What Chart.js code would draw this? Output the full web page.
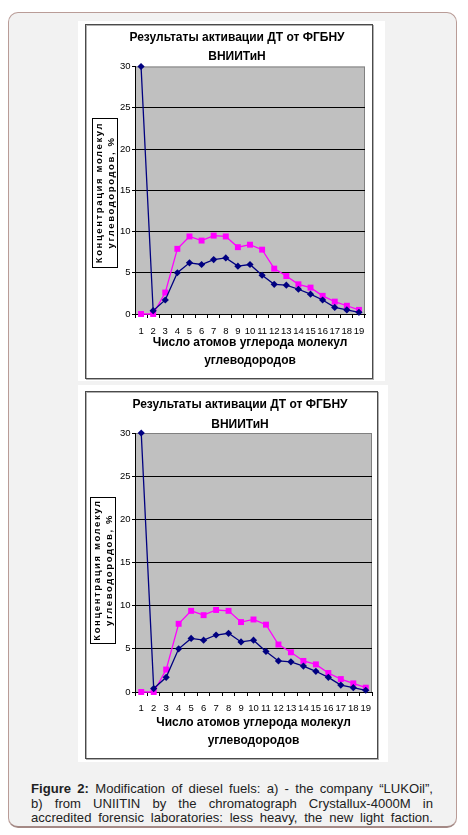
<!DOCTYPE html>
<html>
<head>
<meta charset="utf-8">
<script src="https://cdn.jsdelivr.net/npm/chart.js@4.4.1/dist/chart.umd.min.js"></script>
<style>
    body { margin: 0; width: 468px; height: 835px; position: relative; background: #fff; font-family: 'Liberation Sans', Arial, sans-serif; }
    .panel { position: absolute; left: 8px; top: 12px; width: 449px; height: 816px; box-sizing: border-box; border: 1px solid #b99c97; border-bottom: 2px solid #a48985; border-radius: 10px; background: #f2f2f2; }
    .pic { position: absolute; background: #fff; }
    #pic1 { left: 78px; top: 21px; width: 307px; height: 360px; }
    #pic2 { left: 78px; top: 385px; width: 310px; height: 377px; }
    canvas { display: block; }
    .caption { position: absolute; left: 31px; top: 782px; width: 402px; font-size: 13.1px; line-height: 14.5px; color: #222; text-align: justify; text-align-last: justify; white-space: nowrap; }
</style>
</head>
<body>
<div class="panel"></div>
<div class="pic" id="pic1"><canvas id="chartA" width="307" height="360"></canvas></div>
<div class="pic" id="pic2"><canvas id="chartB" width="310" height="377"></canvas></div>
<div class="caption"><b>Figure 2:</b> Modification of diesel fuels: a) - the company “LUKOil”,<br>b) from UNIITIN by the chromatograph Crystallux-4000M in<br>accredited forensic laboratories: less heavy, the new light faction.</div>

<script>
// число атомов углерода (категории по оси X)
const carbonAtoms = ['1', '2', '3', '4', '5', '6', '7', '8', '9', '10', '11', '12', '13', '14', '15', '16', '17', '18', '19'];
// тёмно-синяя линия (ромбы)
const seriesNavy = [30, 0.4, 1.7, 5.0, 6.2, 6.0, 6.6, 6.8, 5.8, 6.0, 4.7, 3.6, 3.5, 3.0, 2.4, 1.7, 0.8, 0.5, 0.2];
// розовая линия (квадраты)
const seriesPink = [0, 0, 2.6, 7.9, 9.4, 8.9, 9.5, 9.4, 8.1, 8.4, 7.8, 5.5, 4.6, 3.6, 3.2, 2.2, 1.5, 1.0, 0.5];
const yTickValues = [0, 5, 10, 15, 20, 25, 30];

const chartTitle = ['Результаты активации ДТ от ФГБНУ', 'ВНИИТиН'];
const xTitle = ['Число атомов углерода молекул', 'углеводородов'];
const yTitle = ['Концентрация молекул', 'углеводородов, %'];

const family = "'Liberation Sans Narrow', 'Arial Narrow', 'Liberation Sans', Arial, sans-serif";

const frameBox = {
    id: 'frameBox',
    beforeDraw(chart, args, opts) {
        const { ctx, chartArea: a } = chart;
        const f = opts.frame;
        ctx.save();
        ctx.lineWidth = 1;
        ctx.strokeStyle = '#b0b0b0';
        ctx.strokeRect(f.x + 1.5, f.y + 1.5, f.w, f.h);
        ctx.strokeStyle = '#4a4a4a';
        ctx.strokeRect(f.x + 0.5, f.y + 0.5, f.w, f.h);
        ctx.fillStyle = '#c0c0c0';
        ctx.fillRect(a.left, a.top, a.width, a.height);
        ctx.strokeStyle = '#808080';
        ctx.strokeRect(a.left + 0.5, a.top + 0.5, a.width - 1, a.height);
        ctx.restore();
    },
    afterDraw(chart, args, opts) {
        const { ctx } = chart;
        const b = opts.yBox;
        ctx.save();
        ctx.fillStyle = '#fff';
        ctx.fillRect(b.x, b.y, b.w, b.h);
        ctx.strokeStyle = '#000';
        ctx.lineWidth = 1;
        ctx.strokeRect(b.x + 0.5, b.y + 0.5, b.w, b.h);
        ctx.translate(b.x + b.w / 2 + 1, b.y + b.h / 2);
        ctx.rotate(-Math.PI / 2);
        ctx.font = 'bold 9.5px ' + family;
        ctx.letterSpacing = '1.6px';
        ctx.textAlign = 'center';
        ctx.textBaseline = 'middle';
        ctx.fillStyle = '#000';
        yTitle.forEach((t, i) => ctx.fillText(t, 0, (i - 0.5) * 12.4));
        ctx.restore();
    }
};

function makeChart(id, lay) {
    return new Chart(document.getElementById(id), {
        type: 'line',
        data: {
            labels: carbonAtoms,
            datasets: [
                {
                    label: 'A',
                    data: seriesNavy,
                    borderColor: '#000080',
                    backgroundColor: '#000080',
                    borderWidth: 1.3,
                    pointStyle: 'rectRot',
                    pointRadius: 3.6,
                    pointBorderWidth: 0,
                    tension: 0,
                    clip: false,
                    order: 1
                },
                {
                    label: 'B',
                    data: seriesPink,
                    borderColor: '#ff00ff',
                    backgroundColor: '#ff00ff',
                    borderWidth: 1.3,
                    pointStyle: 'rect',
                    pointRadius: 4.2,
                    pointBorderWidth: 0,
                    tension: 0,
                    clip: false,
                    order: 2
                }
            ]
        },
        options: {
            responsive: false,
            animation: false,
            layout: { padding: { left: lay.padLeft, right: lay.padRight, top: 0, bottom: 0 } },
            plugins: {
                legend: { display: false },
                tooltip: { enabled: false },
                title: {
                    display: true,
                    text: chartTitle,
                    color: '#000',
                    font: { family: family, size: 12, weight: 'bold', lineHeight: lay.titleLine / 12 },
                    padding: { top: lay.titleTop, bottom: lay.titleBottom }
                },
                frameBox: { frame: lay.frame, yBox: lay.yBox }
            },
            scales: {
                x: {
                    offset: true,
                    afterFit: (scale) => { scale.height = lay.xHeight; },
                    border: { color: '#000', width: 1 },
                    grid: { drawOnChartArea: false, drawTicks: true, tickLength: 4, tickColor: '#000', offset: true },
                    ticks: { color: '#000', font: { family: family, size: 9.5 }, padding: lay.xTickPad, autoSkip: false, maxRotation: 0 },
                    title: {
                        display: true,
                        text: xTitle,
                        color: '#000',
                        font: { family: family, size: 12, weight: 'bold', lineHeight: 1.5 },
                        padding: { top: 0, bottom: lay.xTitleBottom }
                    }
                },
                y: {
                    min: 0,
                    max: 30,
                    afterFit: (scale) => { scale.width = lay.yWidth; },
                    afterBuildTicks: (scale) => { scale.ticks = yTickValues.map(v => ({ value: v })); },
                    border: { color: '#000', width: 1 },
                    grid: {
                        color: (c) => (c.tick && c.tick.value === 30 ? 'rgba(0,0,0,0)' : '#000'),
                        tickColor: '#000',
                        tickLength: 3,
                        lineWidth: 1
                    },
                    ticks: { color: '#000', font: { family: family, size: 9.5 }, padding: 1.5 }
                }
            }
        },
        plugins: [frameBox]
    });
}

makeChart('chartA', {
    padLeft: 31, padRight: 20, yWidth: 26, xHeight: 67,
    titleLine: 19, titleTop: 7.5, titleBottom: 0,
    xTickPad: 8, xTitleBottom: 11,
    frame: { x: 7, y: 3, w: 287, h: 354 },
    yBox: { x: 14, y: 97, w: 25, h: 149 }
});

makeChart('chartB', {
    padLeft: 30, padRight: 16, yWidth: 27, xHeight: 70,
    titleLine: 20, titleTop: 10, titleBottom: -2,
    xTickPad: 7, xTitleBottom: 12,
    frame: { x: 7, y: 6, w: 292, h: 367 },
    yBox: { x: 12, y: 112, w: 25, h: 146 }
});
</script>
</body>
</html>
